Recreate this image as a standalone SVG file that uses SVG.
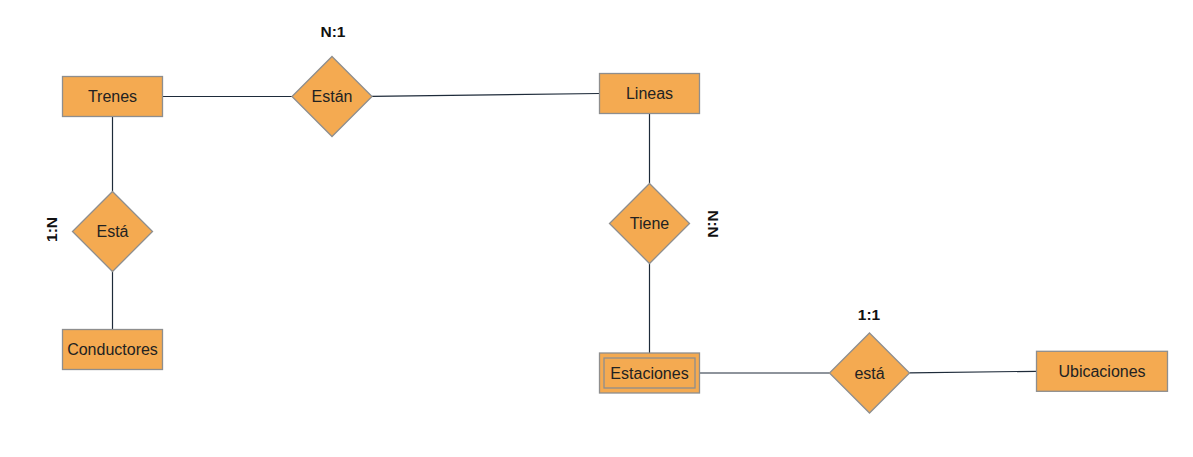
<svg xmlns="http://www.w3.org/2000/svg" width="1193" height="457" viewBox="0 0 1193 457">
<style>
.ent{fill:#F4AA51;stroke:#8E8E8E;stroke-width:1.3}
.in{fill:none;stroke:#8E8E8E;stroke-width:1.3}
.t{font-family:"Liberation Sans",Arial,sans-serif;font-size:16px;fill:#222;text-anchor:middle}
.lb{font-family:"Liberation Sans",Arial,sans-serif;font-size:15.5px;font-weight:bold;fill:#111;text-anchor:middle}
.c{stroke:#1E2B3A;stroke-width:1.2;fill:none}
</style>
<rect width="1193" height="457" fill="#fff"/>
<g id="connectors">
<line class="c" x1="162.5" y1="96.5" x2="292" y2="96.5"/>
<line class="c" x1="372" y1="96.3" x2="599.5" y2="93.5"/>
<line class="c" x1="112.5" y1="116.5" x2="112.5" y2="191.5"/>
<line class="c" x1="112.5" y1="271.5" x2="112.5" y2="329.5"/>
<line class="c" x1="649.5" y1="113.5" x2="649.5" y2="183.5"/>
<line class="c" x1="649.5" y1="263.5" x2="649.5" y2="353"/>
<line class="c" x1="699.5" y1="373" x2="829.5" y2="373"/>
<line class="c" x1="909.5" y1="372.8" x2="1036.5" y2="371.3"/>
</g>
<g id="trenes"><rect class="ent" x="62.5" y="76.5" width="100" height="40"/><text class="t" x="112.5" y="102.3">Trenes</text></g>
<g id="estan"><polygon class="ent" points="332,56.5 372,96.5 332,136.5 292,96.5"/><text class="t" x="332" y="102.3">Están</text></g>
<g id="lineas"><rect class="ent" x="599.5" y="73.5" width="100" height="40"/><text class="t" x="649.5" y="99.3">Lineas</text></g>
<g id="esta1"><polygon class="ent" points="112.5,191.5 152.5,231.5 112.5,271.5 72.5,231.5"/><text class="t" x="112.5" y="237.3">Está</text></g>
<g id="conductores"><rect class="ent" x="62.5" y="329.5" width="100" height="40"/><text class="t" x="112.5" y="355.3">Conductores</text></g>
<g id="tiene"><polygon class="ent" points="649.5,183.5 689.5,223.5 649.5,263.5 609.5,223.5"/><text class="t" x="649.5" y="229.3">Tiene</text></g>
<g id="estaciones"><rect class="ent" x="599.5" y="353" width="100" height="40"/><rect class="in" x="604" y="358" width="91" height="30"/><text class="t" x="649.5" y="378.8">Estaciones</text></g>
<g id="esta2"><polygon class="ent" points="869.5,333 909.5,373 869.5,413 829.5,373"/><text class="t" x="869.5" y="378.8">está</text></g>
<g id="ubicaciones"><rect class="ent" x="1036.5" y="351.3" width="131" height="40"/><text class="t" x="1102" y="376.8">Ubicaciones</text></g>
<g id="labels">
<text class="lb" x="333" y="37.3">N:1</text>
<text class="lb" x="869" y="320.3">1:1</text>
<text class="lb" transform="translate(51,229.5) rotate(-90)" x="0" y="5.5">1:N</text>
<text class="lb" transform="translate(713,224) rotate(90)" x="0" y="5.5">N:N</text>
</g>
</svg>
